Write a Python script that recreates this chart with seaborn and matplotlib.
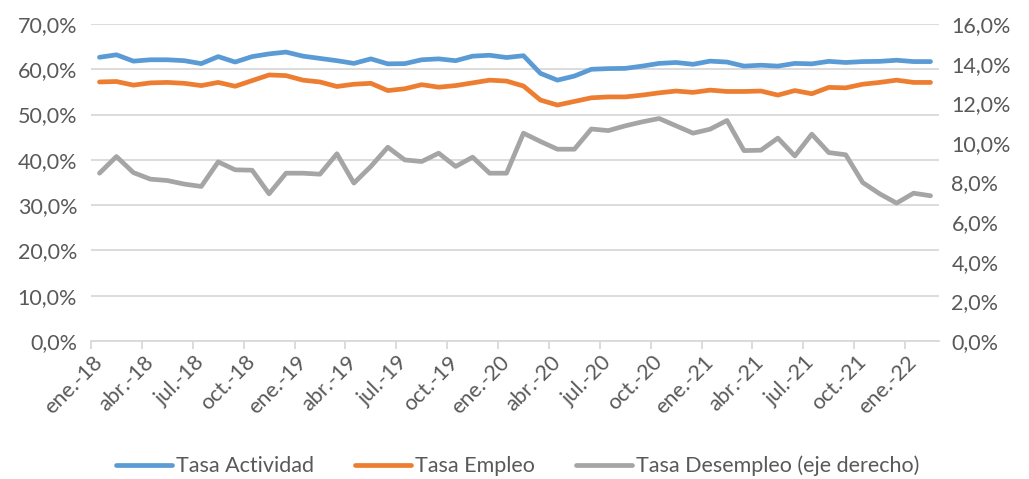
import numpy as np
import pandas as pd
import matplotlib
matplotlib.use("Agg")
import matplotlib.pyplot as plt
import seaborn as sns
from matplotlib.ticker import FuncFormatter, MultipleLocator

# monthly series, ene-18 .. feb-22
month_names = ["ene.", "feb.", "mar.", "abr.", "may.", "jun.",
               "jul.", "ago.", "sep.", "oct.", "nov.", "dic."]
years = ["18", "19", "20", "21", "22"]
n_months = 50

tasa_actividad = [
    62.65, 63.2, 61.8, 62.1, 62.1, 61.9, 61.25, 62.8, 61.6, 62.8,
    63.4, 63.8, 62.9, 62.4, 61.9, 61.3, 62.3, 61.2, 61.25, 62.1,
    62.3, 61.9, 62.9, 63.1, 62.6, 63.0, 59.1, 57.6, 58.5, 60.0,
    60.15, 60.2, 60.7, 61.3, 61.5, 61.1, 61.8, 61.6, 60.7, 60.9,
    60.7, 61.3, 61.2, 61.75, 61.5, 61.7, 61.75, 62.0, 61.7, 61.7,
]
tasa_empleo = [
    57.2, 57.3, 56.5, 57.0, 57.1, 56.9, 56.4, 57.1, 56.25, 57.5,
    58.75, 58.6, 57.6, 57.2, 56.2, 56.7, 56.9, 55.3, 55.7, 56.6,
    56.05, 56.4, 57.0, 57.6, 57.4, 56.3, 53.2, 52.1, 52.9, 53.7,
    53.9, 53.9, 54.3, 54.8, 55.2, 54.9, 55.4, 55.1, 55.1, 55.2,
    54.3, 55.3, 54.6, 56.0, 55.9, 56.7, 57.1, 57.6, 57.1, 57.1,
]
tasa_desempleo = [
    8.47, 9.31, 8.50, 8.17, 8.10, 7.92, 7.80, 9.04, 8.64, 8.62,
    7.43, 8.47, 8.47, 8.42, 9.45, 7.97, 8.81, 9.78, 9.14, 9.06,
    9.48, 8.81, 9.28, 8.47, 8.47, 10.49, 10.07, 9.68, 9.68, 10.7,
    10.62, 10.86, 11.06, 11.23, 10.86, 10.49, 10.69, 11.13, 9.61, 9.63,
    10.24, 9.34, 10.44, 9.51, 9.40, 8.0, 7.43, 6.96, 7.46, 7.33,
]

labels = [f"{month_names[i % 12]}-{years[i // 12]}" for i in range(n_months)]
df = pd.DataFrame({
    "x": np.arange(n_months),
    "Tasa Actividad": tasa_actividad,
    "Tasa Empleo": tasa_empleo,
    "Tasa Desempleo (eje derecho)": tasa_desempleo,
})

sns.set_theme(style="white")
plt.rcParams["font.family"] = ["Lato", "DejaVu Sans"]
text_color = "#595959"
grid_color = "#d9d9d9"
fs = 15.5

fig = plt.figure(figsize=(10.29, 4.79), dpi=100)
ax = fig.add_axes([91 / 1029, 1 - 341 / 479, 848 / 1029, 317 / 479])
ax2 = ax.twinx()

lw = 3.4
sns.lineplot(data=df, x="x", y="Tasa Actividad", ax=ax, color="#5B9BD5",
             lw=lw, solid_capstyle="round", solid_joinstyle="round",
             label="Tasa Actividad", legend=False)
sns.lineplot(data=df, x="x", y="Tasa Empleo", ax=ax, color="#ED7D31",
             lw=lw, solid_capstyle="round", solid_joinstyle="round",
             label="Tasa Empleo", legend=False)
sns.lineplot(data=df, x="x", y="Tasa Desempleo (eje derecho)", ax=ax2,
             color="#A5A5A5", lw=lw, solid_capstyle="round",
             solid_joinstyle="round", label="Tasa Desempleo (eje derecho)",
             legend=False)

ax.set_xlim(-0.5, n_months - 0.5)
ax.set_ylim(0, 70)
ax2.set_ylim(0, 16)
ax.yaxis.set_major_locator(MultipleLocator(10))
ax2.yaxis.set_major_locator(MultipleLocator(2))
pct = FuncFormatter(lambda v, p: f"{v:.1f}%".replace(".", ","))
ax.yaxis.set_major_formatter(pct)
ax2.yaxis.set_major_formatter(pct)

ax.grid(axis="y", color=grid_color, lw=1.3)
ax.set_axisbelow(True)
ax.set_xlabel("")
ax.set_ylabel("")
ax2.set_ylabel("")

for a in (ax, ax2):
    for s in ["top", "left", "right", "bottom"]:
        a.spines[s].set_visible(False)
ax.spines["bottom"].set_visible(True)
ax.spines["bottom"].set_color(grid_color)
ax.spines["bottom"].set_linewidth(1.3)

# labels every 3 months, tick marks between categories
ax.set_xticks(np.arange(0, n_months, 3))
ax.set_xticklabels(labels[::3], rotation=45, ha="right", va="center",
                   rotation_mode="anchor")
ax.set_xticks(np.arange(-0.5, n_months, 3), minor=True)
ax.tick_params(axis="x", which="major", length=0, pad=13,
               labelsize=fs, labelcolor=text_color)
ax.tick_params(axis="x", which="minor", length=6, width=1.3,
               color=grid_color, direction="out", bottom=True)
ax.tick_params(axis="y", length=0, pad=10, labelsize=fs,
               labelcolor=text_color)
ax2.tick_params(axis="y", length=0, pad=9, labelsize=fs,
                labelcolor=text_color)

h1, l1 = ax.get_legend_handles_labels()
h2, l2 = ax2.get_legend_handles_labels()
leg = fig.legend(h1 + h2, l1 + l2, loc="center", bbox_to_anchor=(0.503, 0.027),
                 ncol=3, frameon=False, fontsize=fs, handlelength=2.6,
                 handletextpad=0.2, columnspacing=1.9)
for t in leg.get_texts():
    t.set_color(text_color)

fig.savefig("out.png", dpi=100, facecolor="white")
